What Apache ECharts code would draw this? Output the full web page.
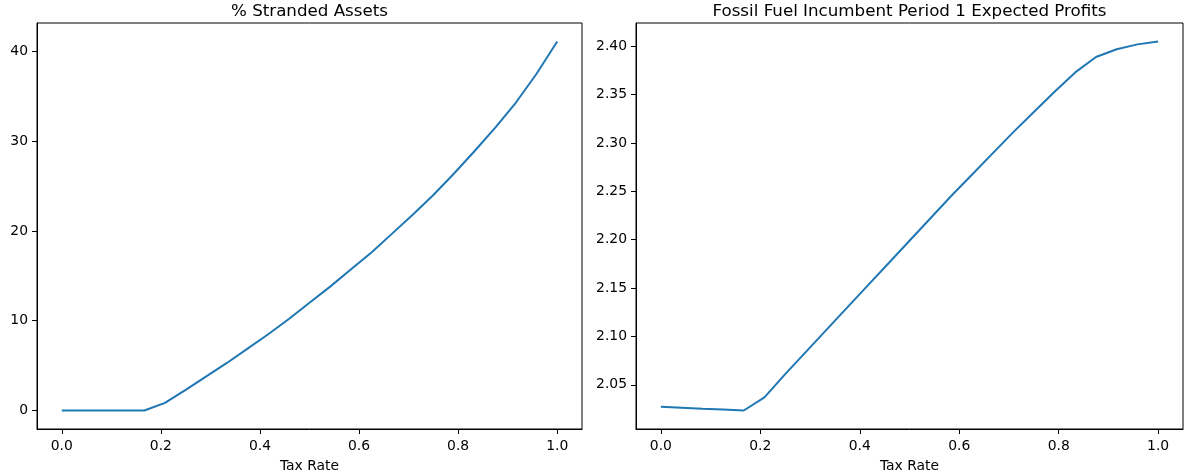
<!DOCTYPE html>
<html>
<head>
<meta charset="utf-8">
<script src="https://cdn.jsdelivr.net/npm/echarts@6/dist/echarts.min.js"></script>
<style>
  html, body { margin: 0; padding: 0; background: #fff; }
  #chart { width: 1192px; height: 474px; }
</style>
</head>
<body>
<div id="chart"></div>
<script>
// tax rate grid (k/24)
var taxRate = [0, 0.0417, 0.0833, 0.125, 0.1667, 0.2083, 0.25, 0.2917, 0.3333, 0.375,
  0.4167, 0.4583, 0.5, 0.5417, 0.5833, 0.625, 0.6667, 0.7083, 0.75, 0.7917,
  0.8333, 0.875, 0.9167, 0.9583, 1.0];

// % stranded assets
var stranded = [0, 0, 0, 0, 0, 0.85, 2.3, 3.8, 5.3, 6.9,
  8.5, 10.2, 12.0, 13.8, 15.7, 17.6, 19.7, 21.8, 24.0, 26.4,
  28.9, 31.5, 34.3, 37.5, 41.1];

// fossil fuel incumbent period 1 expected profits
var profits = [2.0272, 2.0263, 2.0253, 2.0244, 2.0234, 2.037, 2.061, 2.084, 2.107, 2.130,
  2.153, 2.176, 2.199, 2.222, 2.245, 2.267, 2.289, 2.311, 2.332, 2.353,
  2.373, 2.389, 2.397, 2.402, 2.405];

var xTicks = [0, 0.2, 0.4, 0.6, 0.8, 1.0];
var leftTicks = [0, 10, 20, 30, 40];
var rightTicks = [2.05, 2.10, 2.15, 2.20, 2.25, 2.30, 2.35, 2.40];

var font = 'DejaVu Sans';
var lineColor = '#1f77b4';

function pairs(xs, ys) {
  var out = [];
  for (var i = 0; i < xs.length; i++) out.push([xs[i], ys[i]]);
  return out;
}

function xAxisCfg(idx) {
  return {
    type: 'value', gridIndex: idx, min: -0.05, max: 1.05,
    name: 'Tax Rate', nameLocation: 'middle', nameGap: 30,
    nameTextStyle: { color: '#000', fontFamily: font, fontSize: 13.9 },
    axisLine: { show: true, onZero: false, lineStyle: { color: '#000', width: 1 } },
    axisTick: { show: true, length: 5, customValues: xTicks, lineStyle: { color: '#000' } },
    axisLabel: {
      color: '#000', fontFamily: font, fontSize: 13.9, margin: 10,
      customValues: xTicks,
      formatter: function (v) { return v.toFixed(1); }
    },
    splitLine: { show: false }
  };
}

function yAxisCfg(idx, min, max, ticks, digits) {
  return {
    type: 'value', gridIndex: idx, min: min, max: max,
    axisLine: { show: true, onZero: false, lineStyle: { color: '#000', width: 1 } },
    axisTick: { show: true, length: 5, customValues: ticks, lineStyle: { color: '#000' } },
    axisLabel: {
      color: '#000', fontFamily: font, fontSize: 13.9, margin: 9,
      customValues: ticks,
      formatter: function (v) { return v.toFixed(digits); }
    },
    splitLine: { show: false }
  };
}

var dom = echarts.init(document.getElementById('chart'));
var option = {
  backgroundColor: '#fff',
  animation: false,
  grid: [
    { left: 37, top: 23, width: 545, height: 406, outerBoundsMode: 'none', show: true, borderColor: '#000', borderWidth: 1 },
    { left: 636, top: 23, width: 547, height: 406, outerBoundsMode: 'none', show: true, borderColor: '#000', borderWidth: 1 }
  ],
  graphic: [
    { type: 'text', x: 309.5, y: 3, style: { text: '% Stranded Assets', fill: '#000', font: '16.7px DejaVu Sans', textAlign: 'center' } },
    { type: 'text', x: 909.5, y: 3, style: { text: 'Fossil Fuel Incumbent Period 1 Expected Profits', fill: '#000', font: '16.7px DejaVu Sans', textAlign: 'center' } }
  ],
  xAxis: [xAxisCfg(0), xAxisCfg(1)],
  yAxis: [
    yAxisCfg(0, -2.055, 43.155, leftTicks, 0),
    yAxisCfg(1, 2.0043, 2.4241, rightTicks, 2)
  ],
  series: [
    {
      type: 'line', xAxisIndex: 0, yAxisIndex: 0, showSymbol: false,
      lineStyle: { color: lineColor, width: 2 },
      data: pairs(taxRate, stranded)
    },
    {
      type: 'line', xAxisIndex: 1, yAxisIndex: 1, showSymbol: false,
      lineStyle: { color: lineColor, width: 2 },
      data: pairs(taxRate, profits)
    }
  ]
};
dom.setOption(option);
</script>
</body>
</html>
